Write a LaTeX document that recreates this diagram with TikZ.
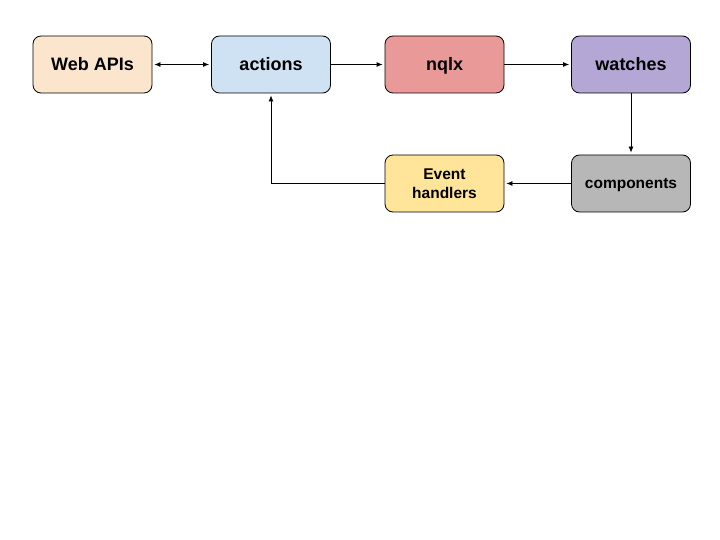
\documentclass[tikz,border=0pt]{standalone}
\usepackage{fontspec}
\setmainfont{Liberation Sans}
\usetikzlibrary{arrows.meta}

\tikzset{
  stage/.style={draw, rounded corners=8pt, line width=0.8pt, minimum width=119pt,
    minimum height=57pt, inner sep=2pt, align=center,
    font=\fontsize{18}{21}\selectfont\bfseries},
  oneline/.style={text height=16pt, text depth=3pt},
  small/.style={font=\fontsize{15.5}{19}\selectfont\bfseries},
  flow/.style={line width=0.8pt, -{Latex[length=6pt,width=5pt]}, shorten >=2pt},
  flowboth/.style={line width=0.8pt, {Latex[length=6pt,width=5pt]}-{Latex[length=6pt,width=5pt]}, shorten >=2pt, shorten <=2pt}
}
\definecolor{peach}{HTML}{FCE5CD}
\definecolor{lblue}{HTML}{CFE2F3}
\definecolor{lred}{HTML}{EA9999}
\definecolor{lpurple}{HTML}{B4A7D6}
\definecolor{lgray}{HTML}{B7B7B7}
\definecolor{lyellow}{HTML}{FFE599}

\begin{document}
\begin{tikzpicture}[x=1pt, y=-1pt]
\useasboundingbox (0,0) rectangle (720,540);
% Nodes
\node[stage, oneline, fill=peach] (web) at (92.5,64.5) {Web APIs};
\node[stage, oneline, fill=lblue] (actions) at (271,64.5) {actions};
\node[stage, oneline, fill=lred] (nqlx) at (444.5,64.5) {nqlx};
\node[stage, oneline, fill=lpurple] (watches) at (631,64.5) {watches};
\node[stage, small, fill=lgray, text height=13pt, text depth=3pt] (comp) at (631,183.5) {components};
\node[stage, small, fill=lyellow] (events) at (444.5,183.5) {Event\\handlers};
% Edges
\draw[flowboth] (web) -- (actions);
\draw[flow] (actions) -- (nqlx);
\draw[flow] (nqlx) -- (watches);
\draw[flow] (watches) -- (comp);
\draw[flow] (comp) -- (events);
\draw[flow] (events.west) -| (actions.south);
\end{tikzpicture}
\end{document}
